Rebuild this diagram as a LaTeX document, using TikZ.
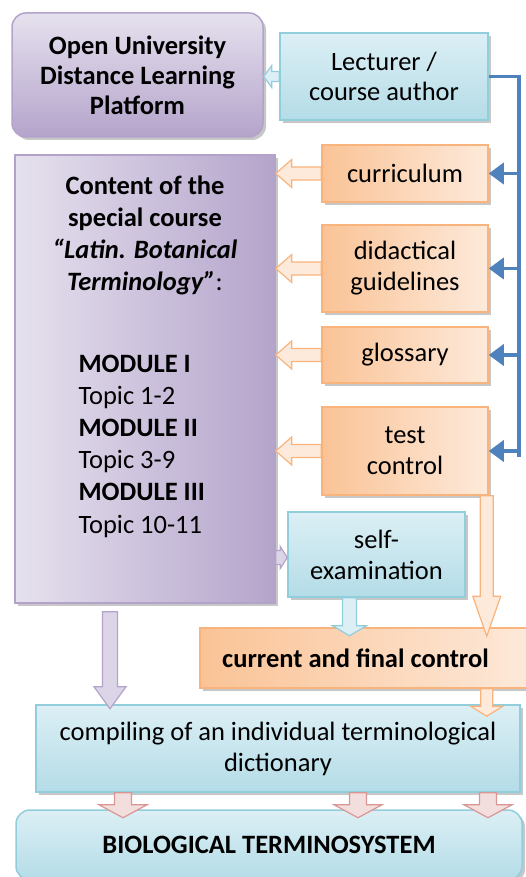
\documentclass[tikz,border=0pt]{standalone}
\usepackage{fontspec}
\setmainfont{Carlito}
\usetikzlibrary{calc,shadows,arrows.meta}
\definecolor{lilaclight}{HTML}{E6E1EE}
\definecolor{lilacdark}{HTML}{B4A4CB}
\definecolor{lilacline}{HTML}{B3A3CB}
\definecolor{cyanlight}{HTML}{DCEFF5}
\definecolor{cyandark}{HTML}{B4DCE7}
\definecolor{cyanline}{HTML}{92CDDC}
\definecolor{peachlight}{HTML}{FDEADB}
\definecolor{peachdark}{HTML}{FAC396}
\definecolor{peachline}{HTML}{F8B47C}
\definecolor{pinklight}{HTML}{F3DEDE}
\definecolor{pinkline}{HTML}{D99694}
\definecolor{busblue}{HTML}{4F81BD}
\tikzset{
  box/.style={draw, line width=1.5pt, align=center, inner sep=0pt,
    drop shadow={shadow xshift=3pt, shadow yshift=-3pt, fill=black!40, opacity=.55}},
  lilacbox/.style={box, draw=lilacline, top color=lilaclight, bottom color=lilacdark},
  cyanbox/.style={box, draw=cyanline, top color=cyanlight, bottom color=cyandark},
  peachbox/.style={box, draw=peachline, left color=peachdark, right color=peachlight},
  bus/.style={draw=busblue, line width=3.5pt},
  lilacarrow/.style={draw=lilacline, fill=lilaclight!80!lilacdark, line width=1.2pt},
  cyanarrow/.style={draw=cyanline, fill=cyanlight, line width=1.2pt},
  peacharrow/.style={draw=peachline, fill=peachlight, line width=1.2pt},
  pinkarrow/.style={draw=pinkline, fill=pinklight, line width=1.2pt},
}
% block arrow: style, from, to, half shaft, half head, head length
\newcommand\blockarrow[6]{%
  \path (#2) coordinate (ba-s) (#3) coordinate (ba-t) ($(ba-t)!#6!(ba-s)$) coordinate (ba-h);
  \filldraw[#1] ($(ba-s)!#4!90:(ba-t)$) -- ($(ba-h)!#4!-90:(ba-s)$) -- ($(ba-h)!#5!-90:(ba-s)$)
    -- (ba-t) -- ($(ba-h)!#5!90:(ba-s)$) -- ($(ba-h)!#4!90:(ba-s)$) -- ($(ba-s)!#4!-90:(ba-t)$) -- cycle;}
\begin{document}
\begin{tikzpicture}[x=1pt, y=-1pt, font=\fontsize{26.5}{31}\selectfont]
\useasboundingbox (0,0) rectangle (526,877);
% boxes
\node[lilacbox, rounded corners=14pt, minimum width=251pt, minimum height=124pt, font=\fontsize{26.5}{30}\selectfont\bfseries] (plat) at (137.5,75) {Open University\\Distance Learning\\Platform};
\node[cyanbox, minimum width=208pt, minimum height=87pt, font=\fontsize{26.5}{30}\selectfont] (lect) at (384,76.5) {Lecturer /\\course author};
\node[lilacbox, left color=lilaclight, right color=lilacdark, minimum width=260pt, minimum height=448pt] (cont) at (145,379) {};
\node[align=center, font=\fontsize{26.5}{32}\selectfont\bfseries] (conthead) at (145,235) {Content of the\\special course\\\itshape “Latin. Botanical\\\itshape Terminology”\normalfont:};
\node[align=left, anchor=west, font=\fontsize{26.5}{32.2}\selectfont] (contmods) at (75,446) {\textbf{MODULE I}\\Topic 1-2\\\textbf{MODULE II}\\Topic 3-9\\\textbf{MODULE III}\\Topic 10-11};
\node[peachbox, minimum width=166pt, minimum height=57pt] (curr) at (405,173.5) {curriculum};
\node[peachbox, minimum width=166pt, minimum height=87pt] (did) at (405,268.5) {didactical\\guidelines};
\node[peachbox, minimum width=166pt, minimum height=56pt] (glos) at (405,355) {glossary};
\node[peachbox, minimum width=166pt, minimum height=88pt] (test) at (405,451) {test\\control};
\node[cyanbox, minimum width=177pt, minimum height=85pt] (self) at (376.5,554.5) {self-\\examination};
\node[peachbox, minimum width=340pt, minimum height=60pt, font=\fontsize{26.5}{31}\selectfont\bfseries] (cur) at (370,658) {\hspace*{-29pt}current and final control};
\node[cyanbox, minimum width=484pt, minimum height=87pt] (comp) at (278,748.5) {compiling of an individual terminological\\dictionary};
\node[cyanbox, rounded corners=14pt, minimum width=506pt, minimum height=70pt, font=\fontsize{26.5}{31}\selectfont\bfseries] (bio) at (269,845) {BIOLOGICAL TERMINOSYSTEM};
% blue bus
\coordinate (bt) at ($(lect.east)+(30,0)$);
\coordinate (bb) at ($(bt |- test.east)+(0,6)$);
\draw[bus] (lect.east) -- (bt) -- (bb);
\foreach \n in {curr,did,glos,test}
  \draw[bus, -{Triangle[width=21pt,length=15pt]}] (bt |- \n.east) -- (\n.east);
% block arrows
\blockarrow{cyanarrow}{lect.west}{plat.east |- lect.west}{5pt}{11pt}{8pt}
\foreach \n in {curr,did,glos,test}
  {\blockarrow{peacharrow}{\n.west}{cont.east |- \n.west}{6.5pt}{14pt}{16pt}}
\blockarrow{lilacarrow}{$(cont.east |- self.west)+(0,3)$}{$(self.west)+(0,3)$}{7pt}{11pt}{7pt}
\coordinate (tx) at ($(test.south east)+(-2,0)$);
\blockarrow{peacharrow}{tx}{$(tx |- cur.north)+(0,9)$}{6.5pt}{14pt}{40pt}
\blockarrow{cyanarrow}{$(self.south)+(-27,0)$}{$(self.south)+(-27,38)$}{7pt}{17pt}{10pt}
\blockarrow{peacharrow}{tx |- cur.south}{$(tx |- comp.north)+(0,12)$}{6pt}{16pt}{10pt}
\blockarrow{lilacarrow}{$(cont.south)+(-35,8)$}{$(cont.south)+(-35,105)$}{7.5pt}{16pt}{22pt}
\foreach \dx in {-155,80,210}
  {\blockarrow{pinkarrow}{$(comp.south)+(\dx,0)$}{$(comp.south)+(\dx,25)$}{8.5pt}{24pt}{13pt}}
\end{tikzpicture}
\end{document}
